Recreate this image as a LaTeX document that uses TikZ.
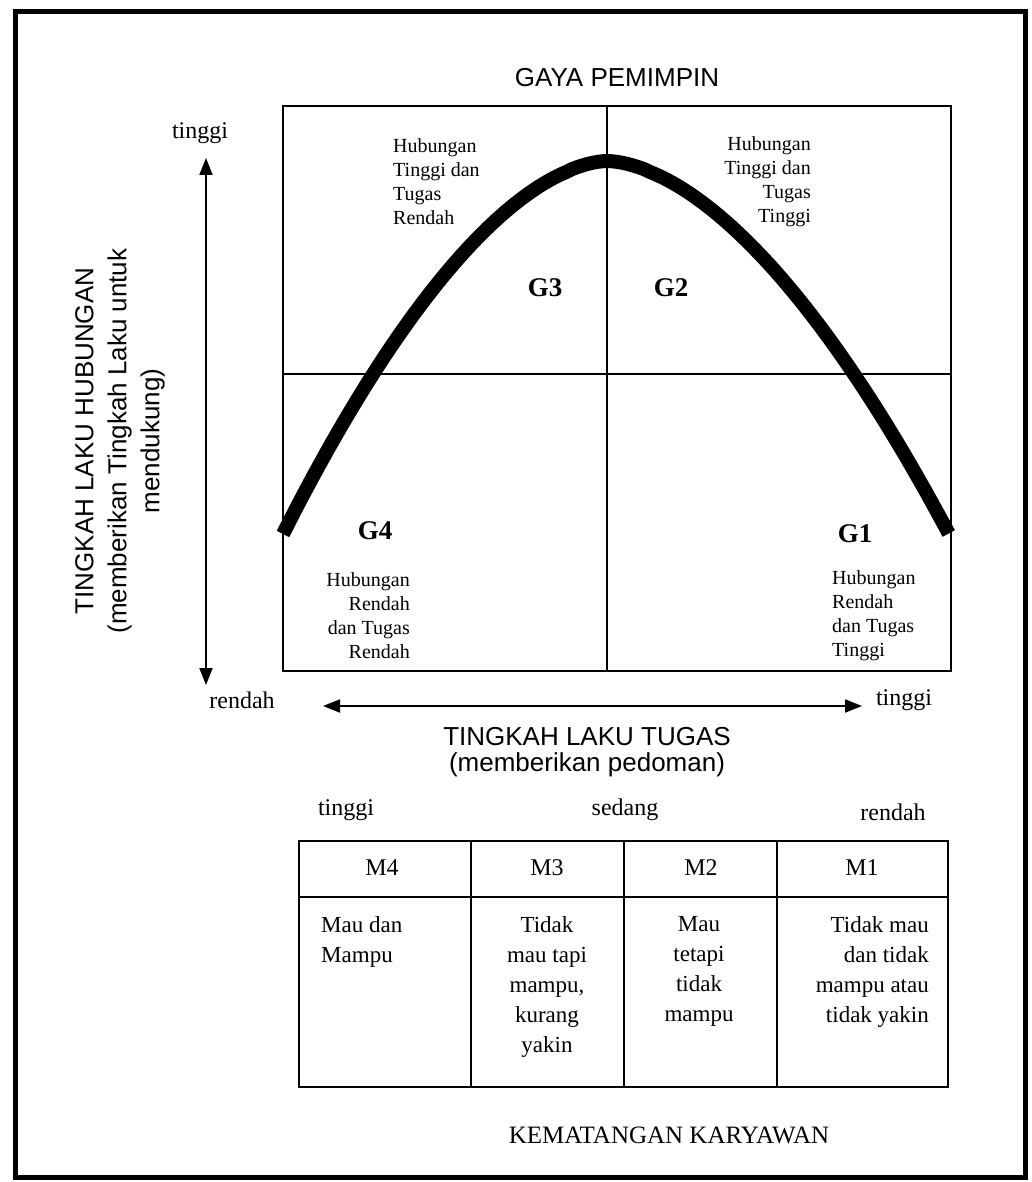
\documentclass[tikz,border=0pt]{standalone}
\usepackage{fontspec}
\setmainfont{Liberation Serif}
\newfontfamily\arialf{Liberation Sans}
\usetikzlibrary{arrows.meta}
\begin{document}
\begin{tikzpicture}[x=1pt,y=-1pt,
  sanslbl/.style={font=\arialf\fontsize{26}{32}\selectfont, inner sep=0pt},
  axlbl/.style={font=\fontsize{24}{28}\selectfont, inner sep=0pt},
  quadtxt/.style={font=\fontsize{20}{24}\selectfont, inner sep=0pt},
  glabel/.style={font=\bfseries\fontsize{27}{30}\selectfont, inner sep=0pt},
  celltxt/.style={font=\fontsize{23}{30}\selectfont, inner sep=0pt},
  headtxt/.style={font=\fontsize{24}{28}\selectfont, inner sep=0pt},
  grid/.style={line width=1.6pt},
  axisarrow/.style={line width=2pt, {Triangle[length=17pt,width=13pt]}-{Triangle[length=17pt,width=13pt]}},
  curveline/.style={line width=14pt}
]
\useasboundingbox (0,0) rectangle (1031,1182);
\fill[white] (0,0) rectangle (1031,1182);
% outer frame
\draw[line width=5pt] (15,12) rectangle (1025,1177);

% title
\node[sanslbl] (title) at (617,78) {GAYA PEMIMPIN};

% quadrant box
\draw[grid] (283,106) rectangle (951,671);
\draw[grid] (607,106) -- (607,671);
\draw[grid] (283,374) -- (951,374);

% bell curve
\draw[curveline] plot[domain=-1:1, samples=120]
  ({607+(\x<0 ? 324 : 342)*\x},{161+373*pow(abs(\x),1.72)});

% quadrant texts
\node[quadtxt, anchor=west, align=left] (q3txt) at (393,182) {Hubungan\\Tinggi dan\\Tugas\\Rendah};
\node[quadtxt, anchor=east, align=right] (q2txt) at (811,182) {Hubungan\\Tinggi dan\\Tugas\\Tinggi};
\node[quadtxt, anchor=east, align=right] (q4txt) at (410,616) {Hubungan\\Rendah\\dan Tugas\\Rendah};
\node[quadtxt, anchor=west, align=left] (q1txt) at (832,616) {Hubungan\\Rendah\\dan Tugas\\Tinggi};
\node[glabel] (g3) at (545,288) {G3};
\node[glabel] (g2) at (671,288) {G2};
\node[glabel] (g4) at (375,531) {G4};
\node[glabel] (g1) at (855,534) {G1};

% vertical axis
\node[axlbl] (ytop) at (200,133) {tinggi};
\node[axlbl] (ybot) at (242,700) {rendah};
\coordinate (yA) at (206,158);
\coordinate (yB) at (206,685);
\draw[axisarrow] (yB) -- (yA);
\node[sanslbl, rotate=90, align=center, font=\arialf\fontsize{26}{33}\selectfont] (ytitle) at (120,441)
  {TINGKAH LAKU HUBUNGAN\\(memberikan Tingkah Laku untuk\\mendukung)};

% horizontal axis
\coordinate (xA) at (323,706);
\coordinate (xB) at (862,706);
\draw[axisarrow] (xA) -- (xB);
\node[axlbl] (xright) at (904,700) {tinggi};
\node[sanslbl] (xtitle) at (587,737) {TINGKAH LAKU TUGAS};
\node[sanslbl] (xsub) at (587,765) {(memberikan pedoman)};

% maturity scale labels
\node[axlbl] (mhigh) at (346,810) {tinggi};
\node[axlbl] (mmid) at (625,810) {sedang};
\node[axlbl] (mlow) at (893,812) {rendah};

% table
\draw[grid] (299,841) rectangle (948,1087);
\draw[grid] (299,897) -- (948,897);
\draw[grid] (471,841) -- (471,1087);
\draw[grid] (624,841) -- (624,1087);
\draw[grid] (777,841) -- (777,1087);

\node[headtxt] (m4) at (382,868) {M4};
\node[headtxt] (m3) at (547,868) {M3};
\node[headtxt] (m2) at (701,868) {M2};
\node[headtxt] (m1) at (862,868) {M1};

\node[celltxt, anchor=north west, align=left] (c4) at (321,916) {Mau dan\\Mampu};
\node[celltxt, anchor=north, align=center] (c3) at (547,916) {Tidak\\mau tapi\\mampu,\\kurang\\yakin};
\node[celltxt, anchor=north, align=center] (c2) at (699,916) {Mau\\tetapi\\tidak\\mampu};
\node[celltxt, anchor=north east, align=right] (c1) at (929,916) {Tidak mau\\dan tidak\\mampu atau\\tidak yakin};

\node[font=\fontsize{25}{28}\selectfont, inner sep=0pt] (kem) at (669,1135) {KEMATANGAN KARYAWAN};
\end{tikzpicture}
\end{document}
